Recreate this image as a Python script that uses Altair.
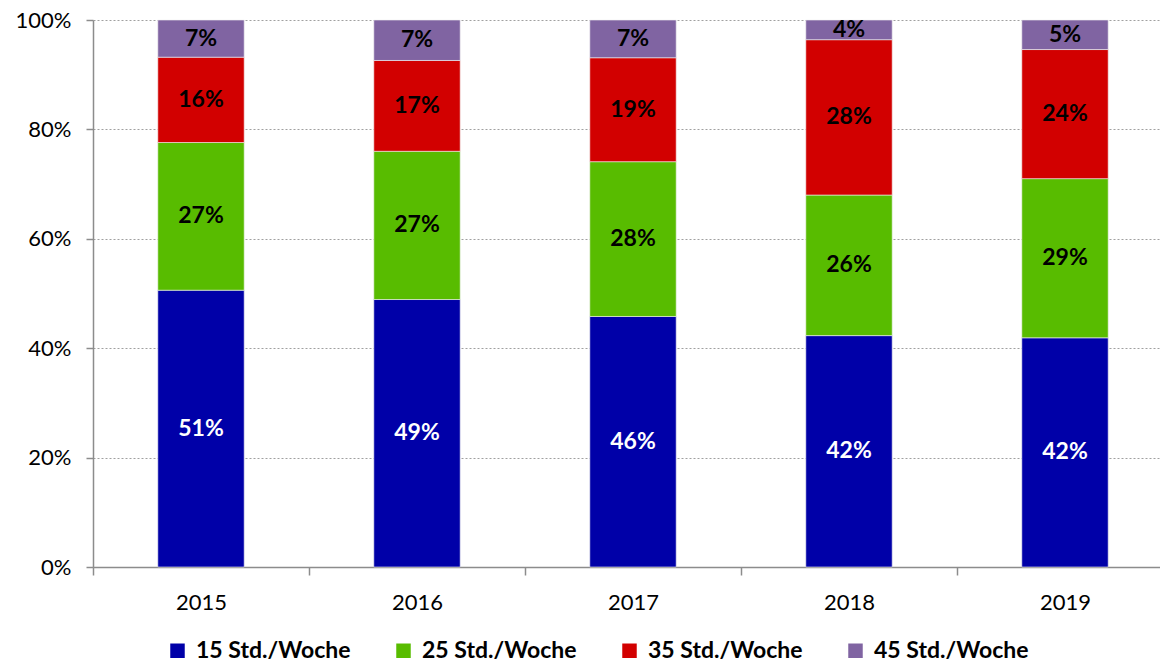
import altair as alt
import pandas as pd

years = ["2015", "2016", "2017", "2018", "2019"]
categories = ["15 Std./Woche", "25 Std./Woche", "35 Std./Woche", "45 Std./Woche"]
v15 = [50.6, 48.9, 45.8, 42.3, 41.9]
v25 = [27.0, 27.1, 28.3, 25.7, 29.1]
v35 = [15.6, 16.6, 19.0, 28.4, 23.6]
v45 = [6.8, 7.4, 6.9, 3.6, 5.4]
colors = ["#0000A8", "#58BC00", "#D20000", "#8064A2"]
label_colors = ["white", "black", "black", "black"]
y_ticks = [0, 20, 40, 60, 80, 100]

rows = []
series = [v15, v25, v35, v45]
for i, yr in enumerate(years):
    for k, cat in enumerate(categories):
        rows.append({"year": yr, "cat": cat, "order": k,
                     "value": series[k][i], "lc": label_colors[k]})
df = pd.DataFrame(rows)

FONT = "Lato"
STEP = 216

x_scale = alt.Scale(paddingInner=0.6, paddingOuter=0.3, range=[0, STEP * 5])

x_enc = alt.X(
    "year:N",
    scale=x_scale,
    axis=alt.Axis(
        title=None, labelAngle=0, labelFont=FONT, labelFontSize=22,
        labelColor="black", labelPadding=17, domainColor="#8c8c8c",
        domainWidth=1.5, tickColor="#8c8c8c", tickWidth=1.5, tickSize=8,
        tickOffset=-STEP / 2, labelOffset=STEP / 2, grid=False,
    ),
)

base = alt.Chart(df)

bars = base.mark_bar(stroke="#f2f2f2", strokeWidth=0.6).encode(
    x=x_enc,
    y=alt.Y(
        "value:Q", stack="zero",
        scale=alt.Scale(domain=[0, 100], nice=False),
        axis=alt.Axis(
            title=None, values=y_ticks, labelExpr="datum.value + '%'",
            labelFont=FONT, labelFontSize=22, labelColor="black",
            labelPadding=15, domainColor="#8c8c8c", domainWidth=1.5,
            tickColor="#8c8c8c", tickWidth=1.5, tickSize=7,
            grid=True, gridColor="#a0a0a0", gridDash=[2, 2], gridWidth=1,
        ),
    ),
    color=alt.Color(
        "cat:N",
        scale=alt.Scale(domain=categories, range=colors),
        legend=alt.Legend(
            title=None, orient="none", direction="horizontal",
            legendX=73, legendY=619, columns=4, columnPadding=41,
            symbolType="square", symbolSize=210, symbolStrokeWidth=0,
            labelFont=FONT, labelFontSize=23, labelFontWeight="bold",
            labelColor="black", labelOffset=7, labelLimit=300,
        ),
    ),
    order=alt.Order("order:Q"),
)

text = base.transform_window(
    cum="sum(value)", groupby=["year"], sort=[alt.SortField("order")],
    frame=[None, 0],
).transform_calculate(
    mid="datum.cum - datum.value / 2",
    label="format(datum.value / 100, '.0%')",
).mark_text(font=FONT, fontSize=23, fontWeight="bold").encode(
    x=alt.X("year:N"),
    y=alt.Y("mid:Q"),
    text="label:N",
    color=alt.Color("lc:N", scale=None),
)

chart = alt.layer(bars, text).properties(
    width=1067, height=547,
    autosize=alt.AutoSizeParams(type="none"),
    padding={"left": 85, "top": 12, "right": 0, "bottom": 95},
).configure_view(stroke=None)

chart.save("out.html", embed_options={"renderer": "svg", "actions": False})
